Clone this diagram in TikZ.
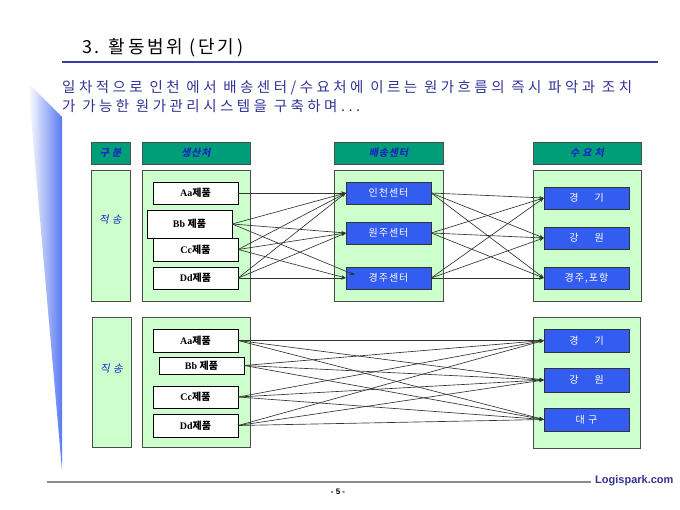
\documentclass[tikz,border=0pt]{standalone}
\usepackage{fontspec}
\setmainfont{Liberation Serif}
\setsansfont{Liberation Sans}
\newfontfamily\kr{Noto Sans CJK KR}
\newfontfamily\krbox[LetterSpace=10]{Noto Sans CJK KR}
\newfontfamily\krsp[LetterSpace=24]{Noto Sans CJK KR}
\newfontfamily\krtitle[LetterSpace=15]{Noto Sans CJK KR}
\newfontfamily\krit[FakeSlant=0.2,LetterSpace=8]{Noto Sans CJK KR}
\usepackage{tikz}
\usetikzlibrary{arrows.meta,positioning,calc}

\definecolor{hdrgreen}{RGB}{0,158,120}
\definecolor{panelgreen}{RGB}{204,255,204}
\definecolor{boxblue}{RGB}{51,92,240}
\definecolor{hdrtext}{RGB}{25,40,190}
\definecolor{subblue}{RGB}{51,51,150}
\definecolor{wedgeblue}{RGB}{88,122,240}

\newcommand{\jepum}{{\kr\bfseries 제품}}

\tikzset{
  hdr/.style={draw=black!70, fill=hdrgreen, minimum height=22, inner sep=0,
    font=\krit\bfseries\fontsize{10}{11}\selectfont, text=hdrtext},
  panel/.style={draw=black!70, fill=panelgreen, inner sep=0},
  prodbox/.style={draw=black, fill=white, minimum width=85, minimum height=22,
    inner sep=0, font=\fontsize{10}{11}\selectfont\bfseries},
  ctrbox/.style={draw=black!80, fill=boxblue, text=white, minimum width=85,
    minimum height=22, inner sep=0, font=\krbox\fontsize{10}{11}\selectfont},
  link/.style={draw=black!80, line width=0.65, -{Stealth[length=4.5,width=3.5]}},
}

\begin{document}
\begin{tikzpicture}[x=1pt,y=-1pt]
    \useasboundingbox[fill=white] (0,0) rectangle (680,510);
    \shade[left color=white, right color=wedgeblue] (28,83) -- (62,117) -- (62,470) -- cycle;
    \node[anchor=west, inner sep=0, font=\krtitle\fontsize{18}{20}\selectfont] (title) at (82,48) {3. 활동범위 (단기)};
    \draw[line width=2, draw={rgb,255:red,60;green,60;blue,160}] (62,62) -- (658,62);
    \node[anchor=west, text=subblue, inner sep=0, font=\krsp\fontsize{14.5}{16}\selectfont] (sub1) at (62,88)
      {일차적으로 인천 에서 배송센터/수요처에 이르는 원가흐름의 즉시 파악과 조치};
    \node[anchor=west, text=subblue, inner sep=0, font=\krsp\fontsize{14.5}{16}\selectfont] (sub2) at (62,106)
      {가 가능한 원가관리시스템을 구축하며...};

    \node[hdr, minimum width=39] (hkind) at (110.5,153) {구 분};
    \node[hdr, minimum width=108] (hsrc) at (196,153) {생산처};
    \node[hdr, minimum width=109] (hctr) at (388.5,153) {배송센터};
    \node[hdr, minimum width=108] (hdem) at (587,153) {수 요 처};

    \node[panel, minimum width=39, minimum height=131] (kind1) at (110.5,235.5) {};
    \node[panel, minimum width=108, minimum height=131] (src1) at (196,235.5) {};
    \node[panel, minimum width=109, minimum height=131] (ctr1) at (388.5,235.5) {};
    \node[panel, minimum width=108, minimum height=131] (dem1) at (587,235.5) {};
    \node[text=hdrtext, font=\krit\fontsize{10.5}{11}\selectfont] at (110.5,220) {적 송};

    \node[prodbox] (p1) at (195.5,193) {Aa\jepum};
    \node[prodbox, minimum height=28] (p2) at (189.5,224) {Bb \jepum};
    \node[prodbox, minimum height=23] (p3) at (195.5,249.5) {Cc\jepum};
    \node[prodbox] (p4) at (195.5,278) {Dd\jepum};

    \node[ctrbox] (c1) at (388.5,193) {인천센터};
    \node[ctrbox] (c2) at (388.5,233) {원주센터};
    \node[ctrbox] (c3) at (388.5,278) {경주센터};

    \node[ctrbox] (d1) at (586.5,198) {경\hspace{1.6em}기};
    \node[ctrbox] (d2) at (586.5,238) {강\hspace{1.6em}원};
    \node[ctrbox] (d3) at (586.5,278) {경주,포항};

    \draw[link] (p1.east) -- (c1.west);
    \foreach \s in {p2,p3,p4}
      \foreach \t in {c1,c2}
        \draw[link] (\s.east) -- (\t.west);
    \draw[link] (p2.east) -- ($(c3.west)+(9,-3)$);
    \draw[link] (p3.east) -- (c3.west);
    \draw[link] (p4.east) -- (c3.west);
    \foreach \s in {c1,c2,c3}
      \foreach \t in {d1,d2,d3}
        \draw[link] (\s.east) -- (\t.west);

    \node[panel, minimum width=39, minimum height=130] (kind2) at (111.5,382) {};
    \node[panel, minimum width=108, minimum height=130] (src2) at (196,382) {};
    \node[panel, minimum width=107, minimum height=131] (dem2) at (586.5,382.5) {};
    \node[text=hdrtext, font=\krit\fontsize{10.5}{11}\selectfont] at (111.5,369) {직 송};

    \node[prodbox, minimum height=23] (q1) at (195.5,340.5) {Aa\jepum};
    \node[prodbox, minimum height=17] (q2) at (201.5,365.5) {Bb \jepum};
    \node[prodbox] (q3) at (195.5,397) {Cc\jepum};
    \node[prodbox, minimum height=23] (q4) at (195.5,425.5) {Dd\jepum};

    \node[ctrbox, minimum height=23] (e1) at (586.5,340.5) {경\hspace{1.6em}기};
    \node[ctrbox, minimum height=24] (e2) at (586.5,380) {강\hspace{1.6em}원};
    \node[ctrbox, minimum height=23] (e3) at (586.5,419.5) {대 구};

    \foreach \s in {q1,q2,q3,q4}
      \foreach \t in {e1,e2,e3}
        \draw[link] (\s.east) -- (\t.west);

    \draw[line width=1.5, draw=black!45] (47,482) -- (591,482);
    \node[anchor=west, inner sep=0, text=subblue, font=\sffamily\bfseries\fontsize{11}{12}\selectfont] (site) at (595,481) {Logispark.com};
    \node[font=\sffamily\bfseries\fontsize{8}{9}\selectfont] (page) at (338,492) {- 5 -};
\end{tikzpicture}
\end{document}
